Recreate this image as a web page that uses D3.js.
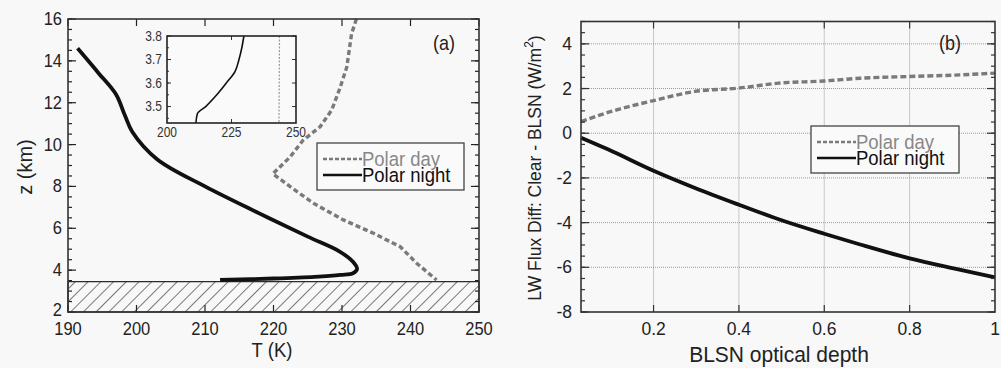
<!DOCTYPE html>
<html lang="en">
<head>
<meta charset="UTF-8">
<title>Polar day / night profiles</title>
<style>
  body { margin: 0; background: #f8f8f8; font-family: "Liberation Sans", Arial, sans-serif; }
  svg { display: block; }
</style>
</head>
<body>
<svg width="1001" height="368"></svg>
<script src="https://cdn.jsdelivr.net/npm/d3@7/dist/d3.min.js"></script>
<script>

// Data (a): temperature profiles, [T (K), z (km)]

const nightProfile = [
  [191.4, 14.6], [194.5, 13.4], [197.0, 12.4], [198.3, 11.4], [199.4, 10.6],
  [203.0, 9.3], [210.0, 8.0], [218.0, 6.7], [225.0, 5.6], [229.6, 4.9],
  [231.6, 4.4], [232.2, 4.05], [231.6, 3.85], [229.8, 3.77], [226.0, 3.68],
  [220.0, 3.6], [212.2, 3.53]
];

const dayProfile = [
  [232.1, 16.0], [231.4, 15.3], [230.7, 13.7], [229.7, 12.7], [228.5, 11.65],
  [226.8, 10.85], [224.3, 10.2], [222.4, 9.4], [219.9, 8.6], [222.4, 8.0],
  [225.8, 7.2], [230.2, 6.4], [234.6, 5.76], [238.5, 5.12], [240.9, 4.33],
  [243.8, 3.53]
];

// Inset (a): lowest layer zoom
const insetNight = [
  [229.8, 3.8], [229.0, 3.75], [227.9, 3.7], [226.4, 3.65], [223.0, 3.6],
  [219.3, 3.55], [215.0, 3.5], [211.8, 3.47], [211.2, 3.43]
];
const insetDay = [[243.6, 3.8], [243.5, 3.6], [243.4, 3.43]];

const groundTop = 3.45; // hatched surface layer

// Data (b): LW flux difference vs BLSN optical depth

const depth = [0.03, 0.093, 0.2, 0.297, 0.4, 0.493, 0.6, 0.684, 0.8, 0.903, 1.0];
const fluxDay = [0.52, 0.93, 1.46, 1.87, 2.02, 2.24, 2.34, 2.46, 2.54, 2.6, 2.69];
const fluxNight = [-0.2, -0.72, -1.68, -2.45, -3.2, -3.85, -4.5, -4.98, -5.6, -6.05, -6.45];

const seriesLabels = ["Polar day", "Polar night"];

// Layout

const svg = d3.select("svg");
const DAY = "#7a7a7a";
const INK = "#222";

const defs = svg.append("defs");
defs.append("pattern")
  .attr("id", "hatch")
  .attr("patternUnits", "userSpaceOnUse")
  .attr("width", 9).attr("height", 9)
  .attr("patternTransform", "rotate(45)")
  .append("line")
    .attr("x1", 0).attr("y1", 0).attr("x2", 0).attr("y2", 9)
    .attr("stroke", "#222").attr("stroke-width", 1.2);

// Text a bit taller than wide, like the figure's typeface
function txt(g, x, y, s, size, anchor, opts = {}) {
  const t = g.append("text")
    .attr("transform", `translate(${x},${y})` + (opts.rotate ? ` rotate(${opts.rotate})` : "") + ` scale(1,${opts.sy || 1.15})`)
    .attr("text-anchor", anchor)
    .attr("font-size", size)
    .attr("fill", opts.fill || INK);
  t.text(s);
  return t;
}

// Helper: inward ticks on a box
function ticks(g, scale, values, orient, x0, y0, len) {
  values.forEach(v => {
    const p = scale(v);
    if (orient === "left") g.append("line").attr("x1", x0).attr("x2", x0 + len).attr("y1", p).attr("y2", p);
    if (orient === "right") g.append("line").attr("x1", x0).attr("x2", x0 - len).attr("y1", p).attr("y2", p);
    if (orient === "bottom") g.append("line").attr("x1", p).attr("x2", p).attr("y1", y0).attr("y2", y0 - len);
    if (orient === "top") g.append("line").attr("x1", p).attr("x2", p).attr("y1", y0).attr("y2", y0 + len);
  });
}

// Legend box
function legend(g, x, y, w, h) {
  g.append("rect").attr("x", x).attr("y", y).attr("width", w).attr("height", h)
    .attr("fill", "#fafafa").attr("stroke", "#444").attr("stroke-width", 1.3);
  const rows = [
    { label: seriesLabels[0], color: DAY, dash: "4,2", text: "#888" },
    { label: seriesLabels[1], color: "#111", dash: null, text: "#111" }
  ];
  rows.forEach((r, i) => {
    const cy = y + 16 + i * 16;
    g.append("line").attr("x1", x + 6).attr("x2", x + 45).attr("y1", cy).attr("y2", cy)
      .attr("stroke", r.color).attr("stroke-width", 2.5).attr("stroke-dasharray", r.dash);
    txt(g, x + 45, cy + 6.5, r.label, 18.5, "start", { fill: r.text, sy: 1.05 });
  });
}

// ---------- Panel (a) ----------

const ax = d3.scaleLinear().domain([190, 250]).range([68, 479]);
const ay = d3.scaleLinear().domain([2, 16]).range([312, 19]);

const ga = svg.append("g");

ga.append("rect")
  .attr("x", ax(190)).attr("y", ay(groundTop))
  .attr("width", ax(250) - ax(190)).attr("height", ay(2) - ay(groundTop))
  .attr("fill", "url(#hatch)").attr("stroke", "#222").attr("stroke-width", 1.2);

const lineA = d3.line().x(d => ax(d[0])).y(d => ay(d[1]));

ga.append("path").datum(dayProfile)
  .attr("d", lineA).attr("fill", "none")
  .attr("stroke", DAY).attr("stroke-width", 3.4).attr("stroke-dasharray", "5,3");

ga.append("path").datum(nightProfile)
  .attr("d", d3.line().x(d => ax(d[0])).y(d => ay(d[1])).curve(d3.curveCatmullRom.alpha(0.5)))
  .attr("fill", "none")
  .attr("stroke", "#111").attr("stroke-width", 3.8).attr("stroke-linejoin", "round");

const tA = ga.append("g").attr("stroke", "#222").attr("stroke-width", 1.2);
const zMajor = d3.range(2, 16.01, 2), zMinor = d3.range(2, 16.01, 0.5);
const tMajor = d3.range(190, 250.01, 10);
ticks(tA, ay, zMinor, "left", ax(190), 0, 4);
ticks(tA, ay, zMajor, "left", ax(190), 0, 8);
ticks(tA, ay, zMinor, "right", ax(250), 0, 4);
ticks(tA, ay, zMajor, "right", ax(250), 0, 8);
ticks(tA, ax, tMajor, "top", 0, ay(16), 7);
ticks(tA, ax, tMajor, "bottom", 0, ay(2), 7);

ga.append("rect")
  .attr("x", ax(190)).attr("y", ay(16))
  .attr("width", ax(250) - ax(190)).attr("height", ay(2) - ay(16))
  .attr("fill", "none").attr("stroke", "#333").attr("stroke-width", 1.6);

zMajor.forEach(d => txt(ga, ax(190) - 6, ay(d) + (d === 2 ? 4 : 6), d, 16.5, "end"));
tMajor.forEach(d => txt(ga, ax(d), ay(2) + 23, d, 16.5, "middle"));

txt(ga, 272, 357, "T (K)", 18.5, "middle", { sy: 1.1 });
txt(ga, 32, 167, "z (km)", 20, "middle", { rotate: -90, sy: 1.05 });
txt(ga, 444, 50, "(a)", 18, "middle");

// Inset

const ix = d3.scaleLinear().domain([200, 250]).range([167, 296]);
const iy = d3.scaleLinear().domain([3.43, 3.8]).range([123, 36]);
const gi = svg.append("g");

gi.append("rect")
  .attr("x", ix(200)).attr("y", iy(3.8))
  .attr("width", ix(250) - ix(200)).attr("height", iy(3.43) - iy(3.8))
  .attr("fill", "#fafafa");

const lineI = d3.line().x(d => ix(d[0])).y(d => iy(d[1])).curve(d3.curveMonotoneY);
gi.append("path").datum(insetDay)
  .attr("d", lineI).attr("fill", "none")
  .attr("stroke", "#999").attr("stroke-width", 1.2).attr("stroke-dasharray", "2,1.5");
gi.append("path").datum(insetNight)
  .attr("d", lineI).attr("fill", "none")
  .attr("stroke", "#111").attr("stroke-width", 1.6);

const tI = gi.append("g").attr("stroke", "#333").attr("stroke-width", 1);
const izTicks = [3.5, 3.6, 3.7, 3.8];
ticks(tI, iy, d3.range(3.45, 3.8, 0.05), "left", ix(200), 0, 2);
ticks(tI, iy, izTicks, "left", ix(200), 0, 4);
ticks(tI, iy, izTicks, "right", ix(250), 0, 4);
ticks(tI, ix, [225], "bottom", 0, iy(3.43), 4);
ticks(tI, ix, [225], "top", 0, iy(3.8), 4);

gi.append("rect")
  .attr("x", ix(200)).attr("y", iy(3.8))
  .attr("width", ix(250) - ix(200)).attr("height", iy(3.43) - iy(3.8))
  .attr("fill", "none").attr("stroke", "#222").attr("stroke-width", 1.6);

izTicks.forEach(d => txt(gi, ix(200) - 5, iy(d) + 4.5, d.toFixed(1), 12, "end", { fill: "#333" }));
[200, 225, 250].forEach(d => txt(gi, ix(d), iy(3.43) + 14, d, 12, "middle", { fill: "#333" }));

legend(ga, 317, 143, 147, 47);

// ---------- Panel (b) ----------

const bx = d3.scaleLinear().domain([0.03, 1]).range([581, 995]);
const by = d3.scaleLinear().domain([-8, 5]).range([312, 21.5]);
const gb = svg.append("g");

const xGrid = [0.2, 0.4, 0.6, 0.8];
const yGrid = [-6, -4, -2, 0, 2, 4];
const yLabels = [-8, -6, -4, -2, 0, 2, 4];

const grid = gb.append("g").attr("stroke", "#999").attr("stroke-width", 1).attr("stroke-dasharray", "1,1");
xGrid.forEach(v => grid.append("line").attr("x1", bx(v)).attr("x2", bx(v)).attr("y1", by(5)).attr("y2", by(-8)));
yGrid.forEach(v => grid.append("line").attr("x1", bx(0.03)).attr("x2", bx(1)).attr("y1", by(v)).attr("y2", by(v)));

const lineB = d3.line().x((d, i) => bx(depth[i])).y(d => by(d)).curve(d3.curveMonotoneX);

gb.append("path").attr("d", lineB(fluxDay)).attr("fill", "none")
  .attr("stroke", DAY).attr("stroke-width", 3.4).attr("stroke-dasharray", "6,3");
gb.append("path").attr("d", lineB(fluxNight))
  .attr("fill", "none").attr("stroke", "#111").attr("stroke-width", 3.8);

const tB = gb.append("g").attr("stroke", "#333").attr("stroke-width", 1.2);
const fMinor = d3.range(-8, 5.01, 0.5);
ticks(tB, by, fMinor, "left", bx(0.03), 0, 4);
ticks(tB, by, yLabels, "left", bx(0.03), 0, 8);
ticks(tB, by, fMinor, "right", bx(1), 0, 4);
ticks(tB, by, yLabels, "right", bx(1), 0, 8);
ticks(tB, bx, xGrid, "bottom", 0, by(-8), 7);
ticks(tB, bx, xGrid, "top", 0, by(5), 7);

gb.append("rect")
  .attr("x", bx(0.03)).attr("y", by(5))
  .attr("width", bx(1) - bx(0.03)).attr("height", by(-8) - by(5))
  .attr("fill", "none").attr("stroke", "#333").attr("stroke-width", 1.6);

yLabels.forEach(d => txt(gb, bx(0.03) - 9, by(d) + 6, d, 17.5, "end", { sy: 1.1 }));
[0.2, 0.4, 0.6, 0.8, 1].forEach(d => txt(gb, bx(d), by(-8) + 23, d, 17.5, "middle", { sy: 1.1 }));

txt(gb, 779, 362, "BLSN optical depth", 21, "middle", { sy: 1.05 });

const yLab = gb.append("text").attr("transform", "translate(541,168) rotate(-90) scale(1,1.1)")
  .attr("text-anchor", "middle").attr("font-size", 17.5).attr("fill", INK);
yLab.append("tspan").text("LW Flux Diff: Clear - BLSN (W/m");
yLab.append("tspan").attr("font-size", 12).attr("dy", -7).text("2");
yLab.append("tspan").attr("dy", 7).text(")");

txt(gb, 950, 50, "(b)", 18, "middle");

legend(gb, 811, 126, 148, 47);

</script>
</body>
</html>
